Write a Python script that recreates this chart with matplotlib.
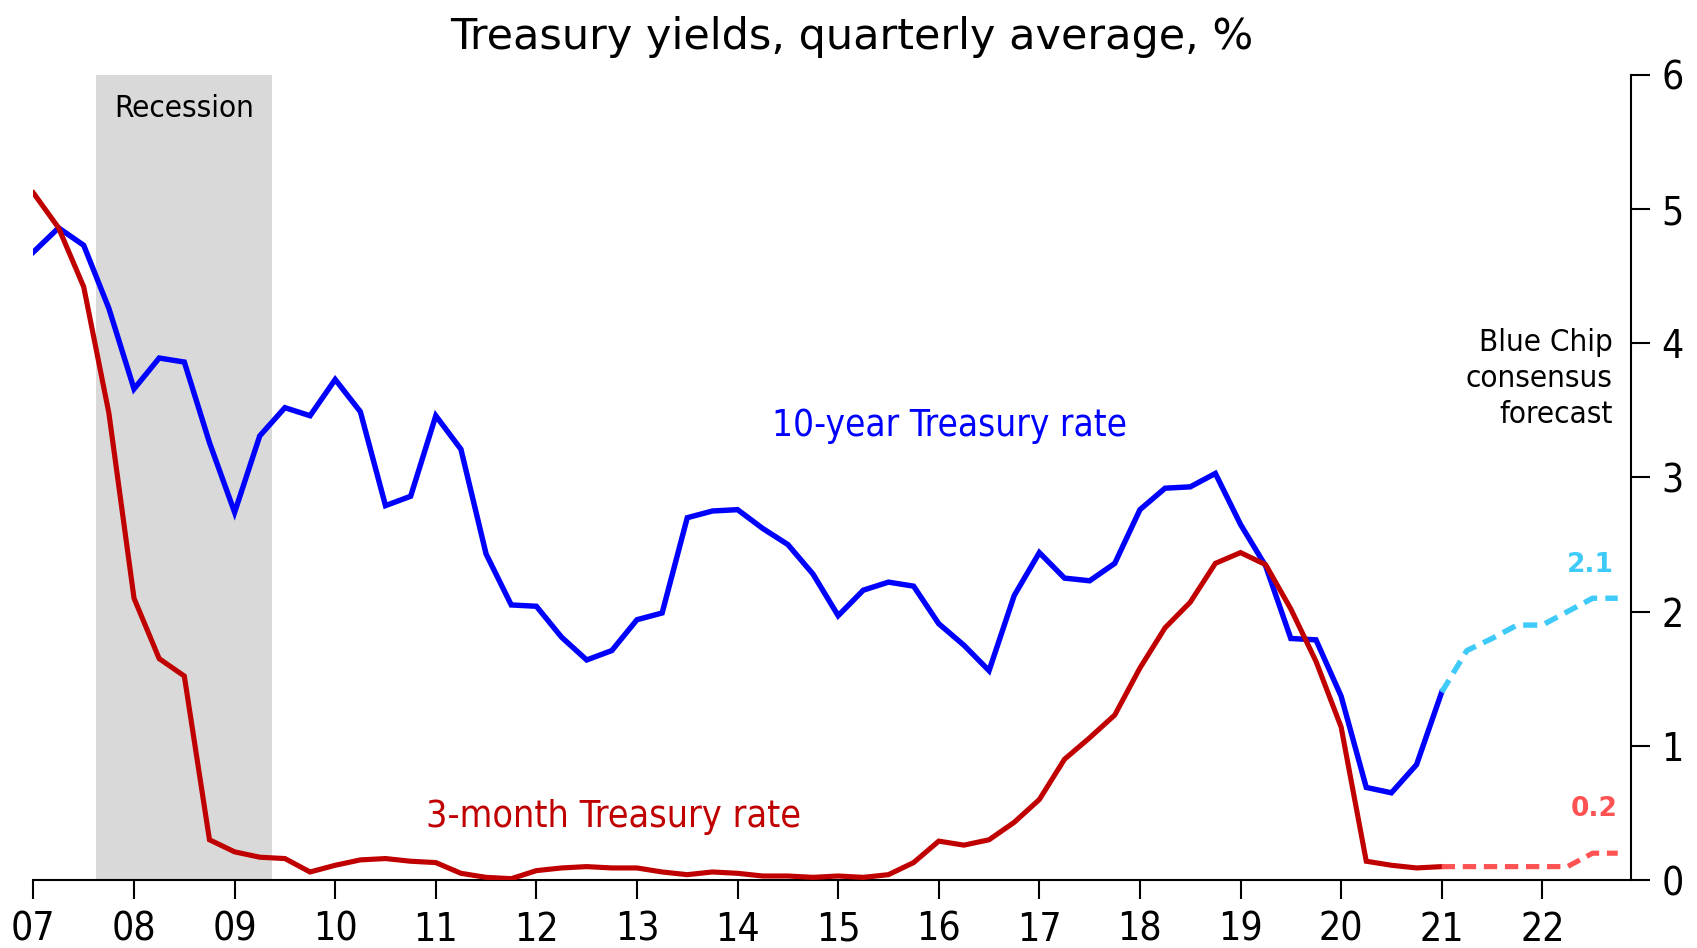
import numpy as np
import matplotlib.pyplot as plt

# Quartalsdaten ab 2007 Q1 (Q1 liegt auf dem Jahresanfang)
ten_year = [4.68, 4.86, 4.73, 4.26, 3.66, 3.89, 3.86, 3.26, 2.74, 3.31, 3.52, 3.46,
            3.73, 3.49, 2.79, 2.86, 3.46, 3.21, 2.43, 2.05, 2.04, 1.81, 1.64, 1.71,
            1.94, 1.99, 2.70, 2.75, 2.76, 2.62, 2.50, 2.28, 1.97, 2.16, 2.22, 2.19,
            1.91, 1.75, 1.56, 2.12, 2.44, 2.25, 2.23, 2.36, 2.76, 2.92, 2.93, 3.03,
            2.65, 2.34, 1.80, 1.79, 1.37, 0.69, 0.65, 0.86, 1.40]
three_month = [5.12, 4.86, 4.42, 3.48, 2.10, 1.65, 1.52, 0.30, 0.21, 0.17, 0.16, 0.06,
               0.11, 0.15, 0.16, 0.14, 0.13, 0.05, 0.02, 0.01, 0.07, 0.09, 0.10, 0.09,
               0.09, 0.06, 0.04, 0.06, 0.05, 0.03, 0.03, 0.02, 0.03, 0.02, 0.04, 0.13,
               0.29, 0.26, 0.30, 0.43, 0.60, 0.90, 1.06, 1.23, 1.58, 1.88, 2.07, 2.36,
               2.44, 2.35, 2.02, 1.63, 1.14, 0.14, 0.11, 0.09, 0.10]

# Blue Chip Prognose ab 2021 Q1
fc_ten = [1.40, 1.71, 1.80, 1.90, 1.90, 2.00, 2.10, 2.10]
fc_three = [0.10, 0.10, 0.10, 0.10, 0.10, 0.10, 0.20, 0.20]

recession = (7.625, 9.375)
years = list(range(7, 23))
yticks = [0, 1, 2, 3, 4, 5, 6]

x = 7 + np.arange(len(ten_year)) / 4
x_fc = 21 + np.arange(len(fc_ten)) / 4

blue = '#0000FF'
red = '#C00000'
lblue = '#3FCBFA'
lred = '#FF5252'

fig = plt.figure(figsize=(16.97, 9.48), dpi=100)
ax = fig.add_axes([0.0197, 0.0717, 0.9413, 0.8493])

ax.axvspan(recession[0], recession[1], color='#D9D9D9', lw=0, zorder=0)

ax.plot(x, ten_year, color=blue, lw=3.9, solid_joinstyle='miter', zorder=3)
ax.plot(x, three_month, color=red, lw=3.7, solid_joinstyle='miter', zorder=3)
ax.plot(x_fc, fc_ten, color=lblue, lw=3.9, ls=(0, (2.6, 1.5)), zorder=3)
ax.plot(x_fc, fc_three, color=lred, lw=3.7, ls=(0, (2.6, 1.5)), zorder=3)

ax.set_xlim(7, 22.88)
ax.set_ylim(0, 6)

ax.spines['left'].set_visible(False)
ax.spines['top'].set_visible(False)
ax.spines['right'].set_linewidth(1.5)
ax.spines['bottom'].set_linewidth(1.5)
ax.yaxis.tick_right()
ax.set_yticks(yticks)
ax.set_yticklabels([str(v) for v in yticks])
ax.set_xticks(years)
ax.set_xticklabels(['%02d' % y for y in years])
ax.tick_params(axis='both', direction='out', length=14, width=1.5, labelsize=28, pad=8)
for lab in ax.get_xticklabels() + ax.get_yticklabels():
    lab.set_fontstretch('condensed')

# Beschriftungen
ax.text(8.5, 5.75, 'Recession', fontsize=22.5, ha='center', va='center', fontstretch='condensed')
ax.text(16.11, 3.39, '10-year Treasury rate', fontsize=26.5, color=blue, ha='center', va='center',
        fontstretch='condensed')
ax.text(12.77, 0.47, '3-month Treasury rate', fontsize=27, color=red, ha='center', va='center',
        fontstretch='condensed')
ax.text(22.7, 3.74, 'Blue Chip\nconsensus\nforecast', fontsize=22.5, ha='right', va='center',
        linespacing=1.3, fontstretch='condensed')
ax.text(22.71, 2.35, '2.1', fontsize=19, color=lblue, ha='right', va='center', fontweight='bold')
ax.text(22.75, 0.53, '0.2', fontsize=19, color=lred, ha='right', va='center', fontweight='bold')

fig.suptitle('Treasury yields, quarterly average, %', fontsize=31, y=0.983, va='top', x=0.502)

plt.savefig('out.png', dpi=100)
